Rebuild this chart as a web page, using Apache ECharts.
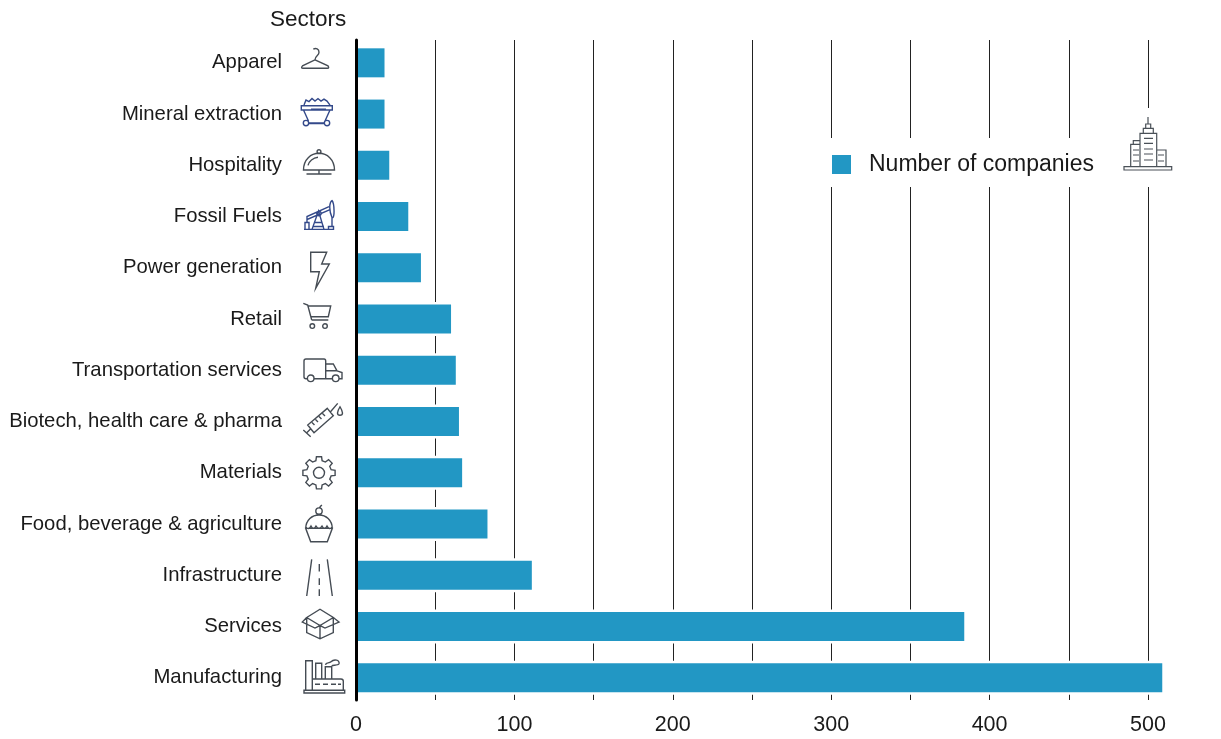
<!DOCTYPE html>
<html><head><meta charset="utf-8">
<style>html,body{margin:0;padding:0;background:#fff}#c{width:1221px;height:739px}</style>
<script src="https://cdn.jsdelivr.net/npm/echarts@6/dist/echarts.min.js"></script>
</head><body><div id="c"></div>
<script>
const categories = ["Apparel","Mineral extraction","Hospitality","Fossil Fuels","Power generation","Retail","Transportation services","Biotech, health care & pharma","Materials","Food, beverage & agriculture","Infrastructure","Services","Manufacturing"];
const companies = [18,18,21,33,41,60,63,65,67,83,111,384,509];
const tickLabels = [0,100,200,300,400,500];
const seriesName = "Number of companies";
const circle=(x,y,r)=>`M${x-r} ${y}A${r} ${r} 0 1 1 ${x+r} ${y}A${r} ${r} 0 1 1 ${x-r} ${y}`;
function gear(r1,r2,n){let d='';const s=Math.PI*2/n;for(let i=0;i<n;i++){const a=i*s-Math.PI/2;const p=[[r1,a-s*.32],[r2,a-s*.2],[r2,a+s*.2],[r1,a+s*.32]];p.forEach((q,j)=>{d+=(i===0&&j===0?'M':'L')+(q[0]*Math.cos(q[1])).toFixed(2)+' '+(q[0]*Math.sin(q[1])).toFixed(2)});}return d+'Z';}
const grey='#454c54', navy='#33498a';
const icons=[
 {c:grey,d:"M-5.7 -13.7C-3 -15 0 -14 0 -10.5C0 -7 -4 -7 -4 -3L-16.5 3Q-18.5 5.5 -16 5.5L8.5 5.5Q10.5 5.5 9 3L-4 -3"},
 {c:navy,d:"M-17.7 -8.3H13.3V-4H-17.7ZM-15.5 -4L-10.5 7M11 -4L6 7M-8 -4.8H7"+circle(-13,9,2.7)+circle(8,9,2.7)+"M-10 9H5M-10 9.6H5M-15 -9L-13 -14L-10 -12.5L-7 -15.5L-4 -13L-1 -15.5L2 -13L5 -15L8 -13L11 -9"},
 {c:grey,d:"M-15.5 4.7C-15.5 -6 -8 -12 0 -12C8 -12 15.5 -6 15.5 4.7ZM-11 0C-10 -4 -6 -7.5 -1 -8"+circle(0,-13.7,1.9)+"M0 4.7V8.7M-12.5 8.7H12.5"},
 {c:navy,d:"M-15 12.8H14.5M-14 12.8V6H-10V12.8M-12 6V3L11 -7M-12 3L-12 0L10 -10M-7 12.8L-0.5 -5.5L5 12.8M-4.5 6H3.5M-6 10H5"+circle(0,-3,2.2)+"M13 -16C10 -14 10 -6 13 1C16 3 15.500 -13 13 -16ZM13 1V10M9.5 10H14.500V12.8H9.500Z"},
 {c:grey,d:"M-8.3 -15.500H7.700L2.700 -3.800H10.300L-3.300 20.500L0.300 3.900H-8.300Z"},
 {c:grey,d:"M-15.700 -15.700L-11.300 -14L-7.300 1M-11 -13H11.700L9.300 -2.300H-8.300M-7.300 1H9.300"+circle(-6.700,7,2.300)+circle(6,7,2.300)},
 {c:grey,d:"M-11.500 8.500H-13Q-15 8.500 -15 6.500V-9.300Q-15 -11.300 -13 -11.300H5Q6.700 -11.300 6.700 -9.300V8.500H13M6.700 -6.300H14.300L18 0.500H6.700M18 0.500L23 2.300V8.500H20M-5 8.500H6.700"+circle(-8.300,8,3.300)+circle(16.700,8,3.300)},
 {c:grey,d:"M8.300 -13.200L14.300 -5.800L-5 11.200L-11.300 3.500ZM11.300 -9.500L18.700 -18.200M-8.500 7.500L-12 11M-15.700 8.500L-8.300 15.200M-7 1L-4.500 3.500M-3.500 -2L-1 0.500M0 -5L2.500 -2.500M3.500 -8L6 -5.500M21 -14.800C19 -11.500 18.500 -10 18.500 -8.500C18.500 -5.500 23.500 -5.500 23.500 -8.500C23.500 -10 23 -11.500 21 -14.800Z"},
 {c:grey,d:gear(12.500,16.300,8)+circle(0,0,5.500)},
 {c:grey,d:"M-8.300 17.700H8.300L13.300 4.300H-13.300ZM-13.300 4.300C-13 -4 -7 -9 0 -9C7 -9 13 -4 13.300 4.300M-13 3Q-10.500 6.500 -8 2Q-5.500 6.500 -3 2Q0 6.500 3 2Q5.500 6.500 8 2Q10.500 6.500 13 3"+circle(0,-13,3.200)+"M0.500 -16C1 -17.500 2 -18.500 3 -19"},
 {c:grey,d:"M-7.300 -16L-12.300 20.700M8.300 -16L13.300 20.700M0.300 -11.300V-3.700M0.300 3V9.700M0.300 14V20.700"},
 {c:grey,d:"M-12.300 -9V6L1 12.300L14.300 6V-9M1 -1V12.300M-12.300 -9L1 -17.300L14.300 -9L1 -1ZM-12.300 -9L-16.700 -4.500L-4 1.500L1 -1L6 1.500L20 -4.500L14.300 -9"},
 {c:grey,d:"M-15 12.500H25.700V15.200H-15ZM-13.300 12.500V-17.100H-6.700V12.500M-3.300 1.200V-14.500H2.700V1.200M6.300 1.200V-11H12.700V1.200M-6.700 1.200H22Q24.300 1.200 24.300 3.500V12.500M-4 6.500H1M4 6.500H9M12 6.500H17M19 6.500H22M6.500 -13C7 -16 10 -14 12 -16C15 -19 21 -18 20 -14C19 -12 14 -13 12.700 -12"}
];
const building="M-24 23.700H23.700V27H-24ZM-8 23.700V-9.700H8.700V23.700M-4.700 -9.700V-14.700H5.300V-9.700M-2.300 -14.700V-19H2.700V-14.700M0 -19V-26M-8 1.300H-17.300V23.700M-14.700 1.300V-2.300H-8M8.700 7H18V23.700M-4 -4.700H5M-4 0.300H5M-4 6H5M-4 11H5M-4 17H5M-15 7H-9M-15 12H-9M-15 18H-9M10 12H16M10 18H16";
const wrap=(d,c,w)=>({type:'path',shape:{pathData:'M-30 -30M30 30'+d,x:-30,y:-30,width:60,height:60},style:{fill:'none',stroke:c,lineWidth:w||1.4},silent:true});
const font='"Liberation Sans"';
const BAR_H=29, HALO=2.5;
const chart=echarts.init(document.getElementById('c'),null,{renderer:'canvas'});
chart.setOption({
 animation:false,
 backgroundColor:'#fff',
 title:{text:'Sectors',left:270,top:8,padding:0,textStyle:{fontFamily:font,fontSize:22.5,fontWeight:'normal',color:'#1a1a1a'}},
 legend:{left:826,top:138,padding:[15,83,11,6],backgroundColor:'#fff',data:[seriesName],icon:'rect',itemWidth:19,itemHeight:19,
  selectedMode:false,textStyle:{fontFamily:font,fontSize:23,color:'#1a1a1a',padding:[2,0,0,13]}},
 grid:[{left:356,width:792,top:37.2,height:666.2},{left:356,width:792,top:40,height:660}],
 xAxis:[
  {gridIndex:0,type:'value',min:0,max:500,show:false},
  {gridIndex:1,type:'value',min:0,max:500,interval:50,axisLine:{show:false},axisTick:{show:false},
   splitLine:{show:true,lineStyle:{color:'#222',width:1}},
   axisLabel:{customValues:tickLabels,margin:14,fontFamily:font,fontSize:21.5,color:'#1a1a1a'}}
 ],
 yAxis:[
  {gridIndex:0,type:'category',inverse:true,data:categories,axisLine:{show:false},axisTick:{show:false},
   axisLabel:{margin:74,fontFamily:font,fontSize:20.3,color:'#1a1a1a',padding:[0,0,6,0]}},
  {gridIndex:1,type:'value',min:0,max:1,z:5,axisLine:{show:true,onZero:false,lineStyle:{color:'#000',width:3}},axisTick:{show:false},axisLabel:{show:false},splitLine:{show:false}}
 ],
 series:[
  {name:'halo',type:'custom',xAxisIndex:0,yAxisIndex:0,silent:true,clip:false,z:1,
   data:companies.map((v,i)=>[v,i]),encode:{x:0,y:1},
   renderItem:(p,api)=>{const e=api.coord([api.value(0),api.value(1)]);const s=api.coord([0,api.value(1)]);
     return {type:'rect',shape:{x:s[0],y:e[1]-BAR_H/2-HALO,width:e[0]-s[0]+HALO,height:BAR_H+2*HALO},style:{fill:'#fff'}};}},
  {name:seriesName,type:'bar',xAxisIndex:0,yAxisIndex:0,data:companies,barWidth:BAR_H,clip:false,silent:true,z:2,
   itemStyle:{color:'#2297c4'}},
  {name:'icons',type:'custom',xAxisIndex:0,yAxisIndex:0,silent:true,clip:false,z:3,
   data:categories.map((c,i)=>[0,i]),encode:{x:0,y:1},
   renderItem:(p,api)=>{const i=api.value(1);const pt=api.coord([0,i]);
     return {type:'group',x:pt[0]-37,y:pt[1],children:[wrap(icons[i].d,icons[i].c)]};}},
  {name:'building',type:'custom',xAxisIndex:0,yAxisIndex:0,silent:true,clip:false,z:10,
   data:[[500,2]],encode:{x:0,y:1},
   renderItem:(p,api)=>{const pt=api.coord([api.value(0),api.value(1)]);
     return {type:'group',x:pt[0],y:pt[1]-22.3,children:[
       {type:'rect',shape:{x:-24,y:-35,width:48,height:40},style:{fill:'#fff'}},
       wrap(building,'#4a5158',1.2)]};}}
 ]
});
</script></body></html>
